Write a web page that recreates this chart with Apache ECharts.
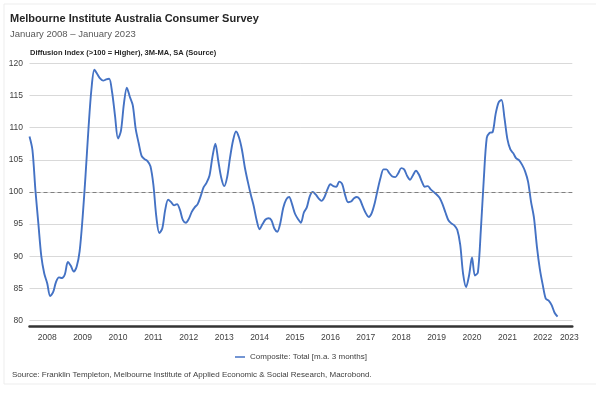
<!DOCTYPE html>
<html>
<head>
<meta charset="utf-8">
<script src="https://cdn.jsdelivr.net/npm/echarts@6.0.0/dist/echarts.min.js"></script>
<style>
  html, body { margin: 0; padding: 0; background: #fff; }
  #chart { width: 600px; height: 396px; }
</style>
</head>
<body>
<div id="chart"></div>
<script>
// monthly 3M-MA composite index, Jan 2008 .. Dec 2022
const composite = [
  108.6, 106.5, 100.3, 95.1, 90.0, 87.3, 85.8, 83.8, 84.4, 86.0, 86.7, 86.6,
  87.2, 89.1, 88.5, 87.6, 88.4, 90.8, 96.0, 102.6, 109.9, 116.0, 119.0, 118.3,
  117.6, 117.3, 117.5, 117.6, 115.5, 111.8, 108.3, 109.5, 113.7, 116.2, 114.8, 113.5,
  109.8, 107.6, 105.6, 105.1, 104.8, 104.0, 101.1, 96.1, 93.6, 94.3, 97.2, 98.8,
  98.4, 97.9, 98.1, 97.2, 95.6, 95.2, 95.8, 96.9, 97.6, 98.1, 99.3, 100.7,
  101.4, 102.5, 105.4, 107.5, 104.8, 102.2, 100.9, 102.3, 105.4, 108.0, 109.4, 108.5,
  106.6, 103.8, 101.6, 99.6, 97.8, 95.6, 94.2, 95.0, 95.7, 95.9, 95.6, 94.3,
  93.8, 95.1, 97.5, 98.8, 99.2, 98.1, 96.6, 95.8, 95.2, 96.8, 97.6, 99.3,
  100.0, 99.6, 99.0, 98.6, 99.2, 100.4, 101.2, 100.9, 100.8, 101.6, 101.2, 99.5,
  98.4, 98.5, 99.0, 99.2, 98.8, 97.7, 96.7, 96.1, 96.7, 98.2, 100.3, 102.2,
  103.5, 103.5, 102.9, 102.4, 102.3, 102.9, 103.7, 103.5, 102.5, 101.9, 102.6, 103.3,
  102.7, 101.6, 100.8, 100.9, 100.4, 100.0, 99.6, 99.1, 98.1, 96.8, 95.6, 95.1,
  94.8, 94.1, 91.8, 87.2, 85.2, 87.0, 89.8, 87.0, 87.5, 94.1, 102.0, 108.4,
  109.2, 109.3, 112.1, 113.9, 114.3, 111.5, 108.2, 106.6, 106.0, 105.2, 104.9, 104.2,
  103.2, 101.6, 98.5, 96.0, 91.5, 88.0, 85.5, 83.4, 83.1, 82.4, 81.2, 80.6
];
const yearLabels = ['2008', '2009', '2010', '2011', '2012', '2013', '2014', '2015',
  '2016', '2017', '2018', '2019', '2020', '2021', '2022', '2023'];
const yTicks = [80, 85, 90, 95, 100, 105, 110, 115, 120];
const refLevel = 100;
const seriesName = 'Composite: Total [m.a. 3 months]';

// month categories Jan 2008 .. May 2023 (axis runs a bit past the data)
let months = [];
for (let i = 0; i < 185; i++) {
  let y = 2008 + Math.floor(i / 12);
  let m = (i % 12) + 1;
  months.push(y + '-' + (m > 9 ? m : '0' + m));
}

// year label sits mid-year, last one near the axis end
function yearAt(idx) {
  let y = months[idx].slice(0, 4);
  let m = months[idx].slice(5);
  if (y === yearLabels[yearLabels.length - 1]) return m === '04' ? y : '';
  if (m === '07' && yearLabels.indexOf(y) >= 0) return y;
  return '';
}

const font = "'Liberation Sans', Arial, sans-serif";
const chart = echarts.init(document.getElementById('chart'));

chart.setOption({
  animation: false,
  textStyle: { fontFamily: font },
  title: [
    {
      text: 'Melbourne Institute Australia Consumer Survey',
      left: 5, top: 8,
      textStyle: { fontSize: 11, fontWeight: 'bold', color: '#262626', fontFamily: font }
    },
    {
      text: 'January 2008 \u2013 January 2023',
      left: 5, top: 24,
      textStyle: { fontSize: 9.5, fontWeight: 'normal', color: '#595959', fontFamily: font }
    },
    {
      text: 'Diffusion Index (>100 = Higher), 3M-MA, SA (Source)',
      left: 25, top: 44,
      textStyle: { fontSize: 7.5, fontWeight: 'bold', color: '#262626', fontFamily: font }
    },
    {
      text: 'Source: Franklin Templeton, Melbourne Institute of Applied Economic & Social Research, Macrobond.',
      left: 7, top: 366,
      textStyle: { fontSize: 8, fontWeight: 'normal', color: '#404040', fontFamily: font }
    }
  ],
  graphic: [
    {
      type: 'polyline',
      shape: { points: [[596, 4], [4, 4], [4, 384], [596, 384]] },
      style: { stroke: '#ededed', lineWidth: 1, fill: null },
      silent: true
    }
  ],
  legend: {
    data: [seriesName],
    left: 230, top: 348,
    icon: 'rect',
    itemWidth: 10, itemHeight: 1.5, itemGap: 2,
    textStyle: { fontSize: 8, color: '#404040', fontFamily: font }
  },
  grid: { left: 29.5, right: 27.7, top: 63.3, bottom: 75.5 },
  xAxis: {
    type: 'category',
    data: months,
    boundaryGap: false,
    offset: 5.5,
    axisLine: { lineStyle: { color: '#333333', width: 2.5 } },
    axisTick: { show: false },
    axisLabel: {
      interval: (idx) => yearAt(idx) !== '',
      formatter: (val, idx) => yearAt(idx),
      fontSize: 8.5, color: '#404040', margin: 7, fontFamily: font
    },
    splitLine: { show: false }
  },
  yAxis: {
    type: 'value',
    min: yTicks[0],
    max: yTicks[yTicks.length - 1],
    interval: yTicks[1] - yTicks[0],
    axisLine: { show: false },
    axisTick: { show: false },
    axisLabel: { fontSize: 8.5, color: '#404040', margin: 6.5, fontFamily: font },
    splitLine: { lineStyle: { color: '#d9d9d9', width: 1 } }
  },
  series: [
    {
      name: seriesName,
      type: 'line',
      data: composite,
      symbol: 'none',
      smooth: 0.3,
      lineStyle: { color: '#4472c4', width: 1.9 },
      itemStyle: { color: '#4472c4' },
      markLine: {
        silent: true,
        symbol: 'none',
        label: { show: false },
        lineStyle: { color: '#7f7f7f', type: [4, 3], width: 1.2 },
        data: [{ yAxis: refLevel }]
      }
    }
  ]
});
</script>
</body>
</html>
